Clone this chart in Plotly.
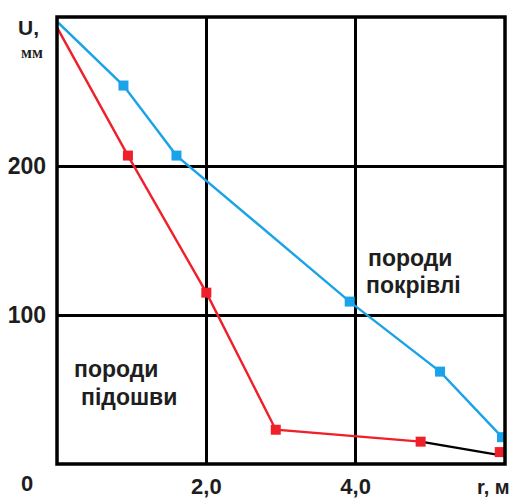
import plotly.graph_objects as go

# Roof rocks (blue) and floor rocks (red): displacement U (mm) vs distance r (m)
r_roof = [0.0, 0.89, 1.6, 3.92, 5.13, 5.96]
u_roof = [297, 254, 207, 109, 62, 18]

r_floor = [0.0, 0.95, 2.0, 2.93, 4.87, 5.93]
u_floor = [293, 207, 115, 23, 15, 8]

x_ticks = [2, 4]
x_tick_text = ["2,0", "4,0"]
y_ticks = [100, 200]
y_tick_text = ["100", "200"]

BLUE = "#1aa3e8"
RED = "#f0202a"
INK = "#1e1e1e"
FONT = "Liberation Sans, Arial, sans-serif"

fig = go.Figure()

# blue curve
fig.add_trace(go.Scatter(
    x=r_roof, y=u_roof, mode="lines",
    line=dict(color=BLUE, width=2.4), hoverinfo="skip"))

# red curve (last segment drawn in black)
fig.add_trace(go.Scatter(
    x=r_floor[:-1], y=u_floor[:-1], mode="lines",
    line=dict(color=RED, width=2.4), hoverinfo="skip"))
fig.add_trace(go.Scatter(
    x=r_floor[-2:], y=[u_floor[-2], u_floor[-1] - 2], mode="lines",
    line=dict(color="black", width=2.4), hoverinfo="skip"))

# markers (skip the common start point)
fig.add_trace(go.Scatter(
    x=r_roof[1:], y=u_roof[1:], mode="markers",
    marker=dict(symbol="square", size=10, color=BLUE), hoverinfo="skip"))
fig.add_trace(go.Scatter(
    x=r_floor[1:], y=u_floor[1:], mode="markers",
    marker=dict(symbol="square", size=10, color=RED), hoverinfo="skip"))

axis_common = dict(
    showgrid=True, gridcolor="black", gridwidth=2.5,
    zeroline=False, showline=False, ticks="",
    fixedrange=True, automargin=False,
)

fig.update_xaxes(range=[0, 6], tickvals=x_ticks, ticktext=x_tick_text,
                 ticklabelstandoff=7,
                 tickfont=dict(family=FONT, size=22, color=INK, weight="bold"),
                 **axis_common)
fig.update_yaxes(range=[0, 300], tickvals=y_ticks, ticktext=y_tick_text,
                 ticklabelstandoff=10,
                 tickfont=dict(family=FONT, size=23, color=INK, weight="bold"),
                 **axis_common)

# plot frame
fig.add_shape(type="rect", xref="paper", yref="paper", x0=0, y0=0, x1=1, y1=1,
              line=dict(color="black", width=3.5), layer="above")

def label(text, x, y, size, xref="x", yref="y", xanchor="left",
          yanchor="middle", xshift=0, yshift=0, family=FONT):
    return dict(text=text, x=x, y=y, xref=xref, yref=yref,
                xanchor=xanchor, yanchor=yanchor, xshift=xshift, yshift=yshift,
                font=dict(family=family, size=size, color=INK, weight="bold"),
                showarrow=False)

annotations = [
    label("U,", 0, 1, 21, xref="paper", yref="paper", xanchor="right",
          yanchor="top", xshift=-16, yshift=3),
    label("мм", 0, 1, 16, xref="paper", yref="paper", xanchor="right",
          yanchor="top", xshift=-12, yshift=-25,
          family="Liberation Serif, serif"),
    label("0", 0, 0, 22, xref="paper", yref="paper", xanchor="right",
          yanchor="top", xshift=-22, yshift=-5),
    label("r, м", 1, 0, 20, xref="paper", yref="paper", xanchor="right",
          yanchor="top", xshift=7, yshift=-10),
    label("породи", 4.14, 138, 23),
    label("покрівлі", 4.11, 120, 23),
    label("породи", 0.2, 64, 23),
    label("підошви", 0.3, 45, 23),
]
fig.update_layout(annotations=annotations)

fig.update_layout(
    width=513, height=502,
    margin=dict(l=57, r=8, t=17, b=38, autoexpand=False),
    paper_bgcolor="white", plot_bgcolor="white",
    showlegend=False,
    font=dict(family=FONT, color=INK),
)

fig.write_html("out.html")
